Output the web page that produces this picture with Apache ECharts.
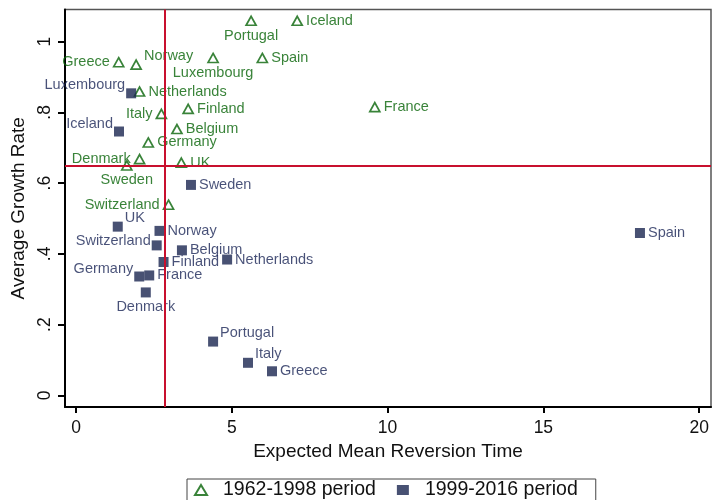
<!DOCTYPE html>
<html>
<head>
<meta charset="utf-8">
<script src="https://cdn.jsdelivr.net/npm/echarts@6/dist/echarts.min.js"></script>
<style>
  html, body { margin: 0; padding: 0; background: #fff; }
  #chart { width: 715px; height: 500px; }
</style>
</head>
<body>
<div id="chart"></div>
<script>
// 1962-1998 period
var paisesAntigo = ['Iceland', 'Portugal', 'Spain', 'Luxembourg', 'Norway', 'Greece', 'Netherlands', 'Finland',
    'Italy', 'Belgium', 'Germany', 'Denmark', 'Sweden', 'UK', 'France', 'Switzerland'];
var tempoAntigo = [7.10, 5.62, 5.98, 4.40, 1.93, 1.37, 2.04, 3.60, 2.74, 3.24, 2.32, 2.04, 1.63, 3.38, 9.59, 2.97];
var crescAntigo = [1.059, 1.059, 0.954, 0.954, 0.935, 0.942, 0.859, 0.810, 0.796, 0.753, 0.715, 0.668, 0.650, 0.658, 0.815, 0.539];

// 1999-2016 period
var paisesNovo = ['Luxembourg', 'Iceland', 'Sweden', 'UK', 'Norway', 'Switzerland', 'Belgium', 'Finland',
    'Netherlands', 'Germany', 'France', 'Denmark', 'Portugal', 'Italy', 'Greece', 'Spain'];
var tempoNovo = [1.77, 1.38, 3.69, 1.34, 2.68, 2.59, 3.40, 2.81, 4.85, 2.03, 2.35, 2.24, 4.40, 5.52, 6.29, 18.10];
var crescNovo = [0.854, 0.746, 0.595, 0.477, 0.465, 0.424, 0.410, 0.377, 0.384, 0.336, 0.339, 0.291, 0.152, 0.092, 0.068, 0.459];

var ticksX = [0, 5, 10, 15, 20];
var ticksY = [0, 0.2, 0.4, 0.6, 0.8, 1];

// linhas de referencia
var mediaTempo = 2.85;
var mediaCresc = 0.65;

// posicao dos rotulos (relogio, como no Stata)
var posAntigo = [3, 6, 3, 6, 1, 9, 3, 3, 9, 3, 3, 9, 6, 3, 3, 9];
var posNovo = [11, 11, 3, 1, 3, 10, 3, 3, 3, 11, 3, 6, 1, 1, 3, 3];

var fonte = '"Liberation Sans", Arial, Helvetica, sans-serif';
var verde = '#086408';
var marinho = '#1a2550';

function rotulo(relogio) {
    switch (relogio) {
        case 1: return { position: 'right', distance: 2, offset: [0, -9] };
        case 6: return { position: 'bottom', distance: 2 };
        case 9: return { position: 'left', distance: 3 };
        case 10: return { position: 'left', distance: 1, offset: [0, -4] };
        case 11: return { position: 'left', distance: 1, offset: [0, -8] };
        default: return { position: 'right', distance: 3 };
    }
}

function montarDados(nomes, xs, ys, pos) {
    return nomes.map(function (nome, i) {
        return { name: nome, value: [xs[i], ys[i]], label: rotulo(pos[i]) };
    });
}

var dom = document.getElementById('chart');
var chart = echarts.init(dom, null, { renderer: 'canvas' });

chart.setOption({
    animation: false,
    textStyle: { fontFamily: fonte },
    grid: {
        left: 65, right: 4, top: 9.5, bottom: 93,
        show: true, borderColor: '#555', borderWidth: 1.5,
        outerBoundsMode: 'none'
    },
    legend: {
        left: 187, top: 479,
        padding: [1, 18, 20, 7],
        borderColor: '#444', borderWidth: 1,
        itemWidth: 12, itemHeight: 10, itemGap: 21,
        textStyle: { fontSize: 19.5, color: '#111', lineHeight: 14, padding: [0, 0, 0, 11] },
        data: ['1962-1998 period', '1999-2016 period']
    },
    xAxis: {
        type: 'value',
        min: -0.353, max: 20.38,
        name: 'Expected Mean Reversion Time',
        nameLocation: 'middle', nameGap: 33,
        nameTextStyle: { fontSize: 19, color: '#111' },
        axisLine: { show: true, onZero: false, lineStyle: { color: '#000', width: 2 } },
        axisTick: { show: true, length: 6, lineStyle: { color: '#000', width: 2 }, customValues: ticksX },
        axisLabel: { fontSize: 17.5, color: '#111', margin: 12, customValues: ticksX },
        splitLine: { show: false }
    },
    yAxis: {
        type: 'value',
        min: -0.033, max: 1.091,
        name: 'Average Growth Rate',
        nameLocation: 'middle', nameGap: 37,
        nameTextStyle: { fontSize: 19, color: '#111' },
        axisLine: { show: true, onZero: false, lineStyle: { color: '#000', width: 2 } },
        axisTick: { show: true, length: 7, lineStyle: { color: '#000', width: 2 }, customValues: ticksY },
        axisLabel: {
            fontSize: 17.5, color: '#111', margin: 11, rotate: 90, customValues: ticksY,
            formatter: function (v) {
                if (v === 0) return '0';
                if (v === 1) return '1';
                return String(+v.toFixed(1)).replace('0.', '.');
            }
        },
        splitLine: { show: false }
    },
    series: [
        {
            name: '1962-1998 period',
            type: 'scatter',
            symbol: 'triangle',
            symbolSize: [10, 9],
            itemStyle: { color: 'rgba(255,255,255,0)', borderColor: verde, borderWidth: 1.7 },
            label: {
                show: true, fontSize: 14.5, color: verde, fontFamily: fonte,
                formatter: function (p) { return p.name; }
            },
            data: montarDados(paisesAntigo, tempoAntigo, crescAntigo, posAntigo),
            markLine: {
                silent: true,
                symbol: 'none',
                label: { show: false },
                lineStyle: { color: '#c8102e', width: 2, type: 'solid' },
                data: [{ xAxis: mediaTempo }, { yAxis: mediaCresc }]
            }
        },
        {
            name: '1999-2016 period',
            type: 'scatter',
            symbol: 'rect',
            symbolSize: 10,
            itemStyle: { color: marinho },
            label: {
                show: true, fontSize: 14.5, color: '#1a2656', fontFamily: fonte,
                formatter: function (p) { return p.name; }
            },
            data: montarDados(paisesNovo, tempoNovo, crescNovo, posNovo)
        }
    ]
});

window.addEventListener('resize', chart.resize);
</script>
</body>
</html>
